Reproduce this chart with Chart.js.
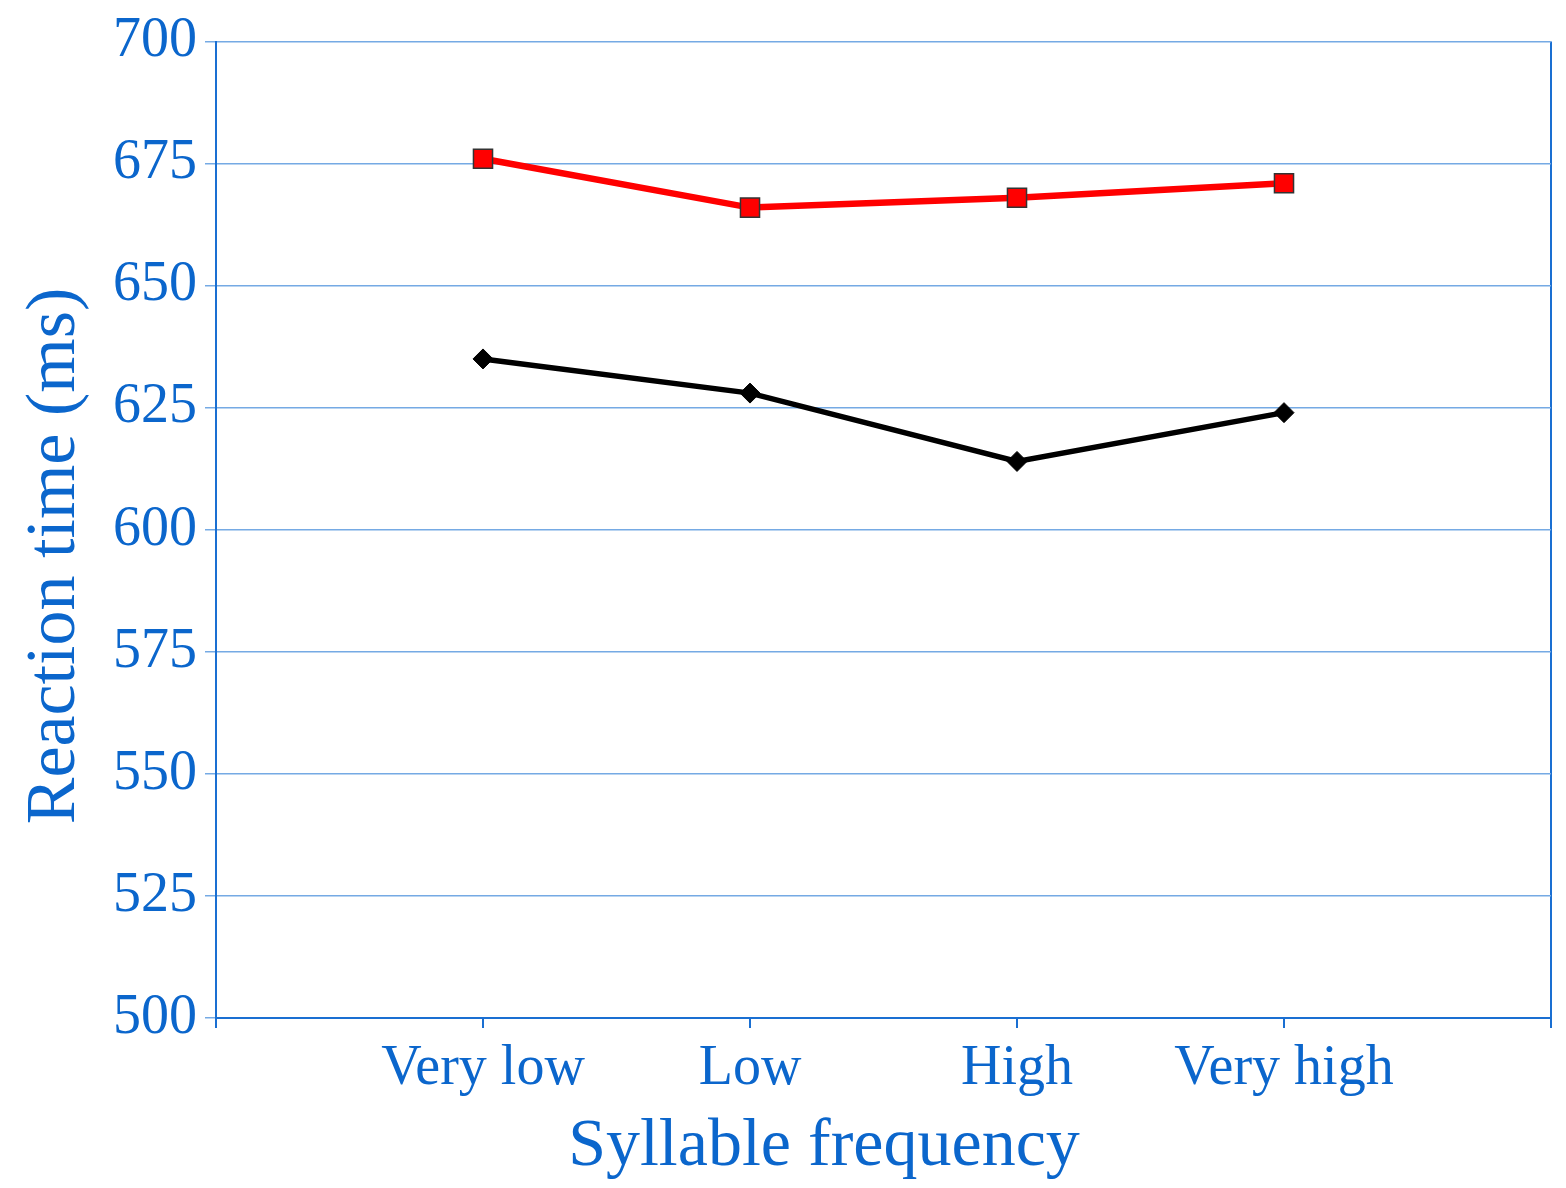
<!DOCTYPE html>
<html>
<head>
<meta charset="utf-8">
<script src="https://cdn.jsdelivr.net/npm/chart.js@4"></script>
<style>
    html, body { margin: 0; padding: 0; background: #fff; }
</style>
</head>
<body>
<canvas id="chartCanvas" width="1566" height="1188"></canvas>
<script>
// data
const categories = ['Very low', 'Low', 'High', 'Very high'];
const redValues = [676, 666, 668, 671];
const blackValues = [635, 628, 614, 624];
const yMin = 500;
const yMax = 700;
const yStep = 25;

const textBlue = '#0b66cc';
const axisBlue = '#1a6fd2';
const gridBlue = '#75aae4';

// one empty slot on each side of the categories
const labels = [''].concat(categories, ['']);
const pad = arr => [null].concat(arr, [null]);

// titles in the original sit a bit off centre, trailing spaces nudge them
const nb = n => '\u00a0'.repeat(n);

const ctx = document.getElementById('chartCanvas').getContext('2d');
const chartInstance = new Chart(ctx, {
    type: 'line',
    data: {
        labels: labels,
        datasets: [
            {
                data: pad(redValues),
                borderColor: '#ff0000',
                borderWidth: 6.5,
                pointStyle: 'rect',
                pointRadius: 13.5,
                pointBackgroundColor: '#ff0000',
                pointBorderColor: '#333333',
                pointBorderWidth: 1.5,
                fill: false
            },
            {
                data: pad(blackValues),
                borderColor: '#000000',
                borderWidth: 5.5,
                pointStyle: 'rectRot',
                pointRadius: 10,
                pointBackgroundColor: '#000000',
                pointBorderColor: '#000000',
                pointBorderWidth: 1,
                fill: false
            }
        ]
    },
    options: {
        responsive: false,
        animation: false,
        layout: { padding: { left: 0, right: 15, top: 12, bottom: 0 } },
        plugins: {
            legend: { display: false },
            tooltip: { enabled: false }
        },
        scales: {
            x: {
                offset: false,
                afterFit: function(scale) { scale.height = 170; },
                grid: {
                    color: c => c.index === labels.length - 1 ? axisBlue : 'rgba(0,0,0,0)',
                    tickColor: axisBlue,
                    tickLength: 10,
                    lineWidth: 2
                },
                border: { color: axisBlue, width: 2 },
                ticks: {
                    color: textBlue,
                    padding: 8,
                    maxRotation: 0,
                    autoSkip: false,
                    font: { family: 'Liberation Serif', size: 56 }
                },
                title: {
                    display: true,
                    text: 'Syllable frequency' + nb(7),
                    color: textBlue,
                    padding: { top: 0, bottom: 0 },
                    font: { family: 'Liberation Serif', size: 68 }
                }
            },
            y: {
                min: yMin,
                max: yMax,
                afterFit: function(scale) { scale.width = 216; },
                grid: {
                    color: gridBlue,
                    tickLength: 11,
                    lineWidth: 1.5
                },
                border: { color: axisBlue, width: 2 },
                ticks: {
                    stepSize: yStep,
                    color: textBlue,
                    padding: 8,
                    font: { family: 'Liberation Serif', size: 56 }
                },
                title: {
                    display: true,
                    text: 'Reaction time (ms)' + nb(3),
                    color: textBlue,
                    padding: { top: 14, bottom: 0 },
                    font: { family: 'Liberation Serif', size: 70 }
                }
            }
        }
    }
});
</script>
</body>
</html>
